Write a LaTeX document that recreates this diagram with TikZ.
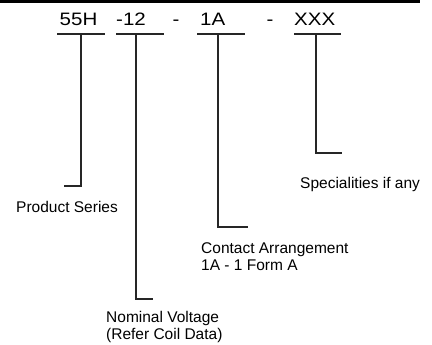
\documentclass[tikz,border=0pt]{standalone}
\usepackage{fontspec}
\setmainfont{Liberation Sans}
\newfontfamily\codefont[FakeStretch=1.14]{Liberation Sans}
\tikzset{
  code/.style={inner sep=0pt, anchor=base west, font=\codefont\fontsize{18}{20}\selectfont},
  lbl/.style={inner sep=0pt, anchor=base west, align=left, font=\fontsize{15.5}{17}\selectfont},
  rule/.style={line width=1.2pt, black!85},
}
\begin{document}
\begin{tikzpicture}[x=1pt, y=-1pt]
\useasboundingbox (0,0) rectangle (432,345);
\fill (0,0) rectangle (420,3.5);
\node[code] (ser) at (59.5,25.5) {55H};
\node[code] (vol) at (116,25.5) {-12};
\node[code] (d1) at (172.5,25.5) {-};
\node[code] (con) at (200,25.5) {1A};
\node[code] (d2) at (266.5,25.5) {-};
\node[code] (spe) at (294,25.5) {XXX};
\coordinate (u1) at (81,34);
\coordinate (u2) at (136,34);
\coordinate (u3) at (218,34);
\coordinate (u4) at (316,34);
\draw[rule] (57,34) -- (105,34);
\draw[rule] (116,34) -- (164,34);
\draw[rule] (197,34) -- (245,34);
\draw[rule] (294,34) -- (341,34);
\node[lbl] (lser) at (16,212) {Product Series};
\node[lbl] (lvol) at (106,339.5) {Nominal Voltage\\(Refer Coil Data)};
\node[lbl] (lcon) at (201,270) {Contact Arrangement\\1A - 1 Form A};
\node[lbl] (lspe) at (300,189) {Specialities if any};
\coordinate (e1) at (64,186);
\coordinate (e2) at (153,299);
\coordinate (e3) at (248,227);
\coordinate (e4) at (342,153);
\draw[rule] (u1) |- (e1);
\draw[rule] (u2) |- (e2);
\draw[rule] (u3) |- (e3);
\draw[rule] (u4) |- (e4);
\end{tikzpicture}
\end{document}
